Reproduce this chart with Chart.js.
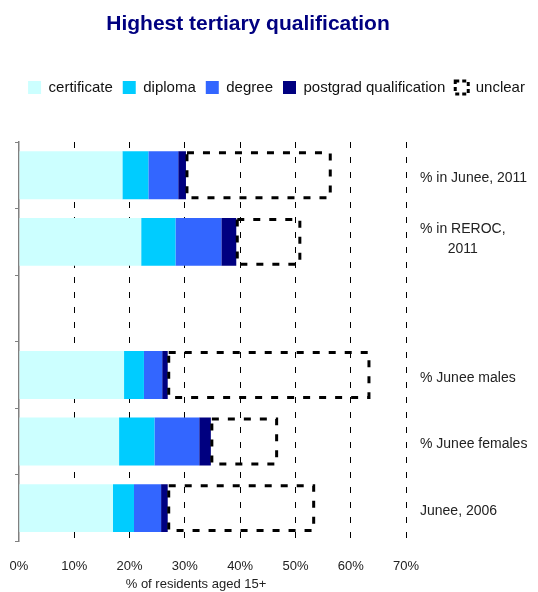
<!DOCTYPE html>
<html>
<head>
<meta charset="utf-8">
<script src="https://cdn.jsdelivr.net/npm/chart.js@4"></script>
<style>
  html, body { margin: 0; padding: 0; background: #fff; }
  #wrap { width: 538px; height: 592px; position: relative; }
</style>
</head>
<body>
<div id="wrap"><canvas id="qualChart"></canvas></div>
<script>
// Highest tertiary qualification, % of residents aged 15+
const categories = [
    '% in Junee, 2011',
    ['% in REROC,', '2011'],
    '',
    '% Junee males',
    '% Junee females',
    'Junee, 2006'
];
const certificate = [18.7, 22.1, null, 19.0, 18.1, 17.0];
const diploma     = [4.7, 6.2, null, 3.6, 6.4, 3.8];
const degree      = [5.4, 8.3, null, 3.3, 8.1, 4.9];
const postgrad    = [1.4, 2.7, null, 1.0, 2.1, 1.2];
const unclear     = [26.1, 11.5, null, 36.4, 11.9, 26.4];

const xTicks = [0, 10, 20, 30, 40, 50, 60, 70];

const FONT = "'Liberation Sans', Arial, Helvetica, sans-serif";

// dashed outline for the "unclear" segment (bar borders can't be dashed)
const unclearBoxes = {
    id: 'unclearBoxes',
    afterDatasetsDraw(chart) {
        const meta = chart.getDatasetMeta(4);
        const ctx = chart.ctx;
        ctx.save();
        ctx.strokeStyle = '#000';
        ctx.lineWidth = 3;
        ctx.setLineDash([7, 9]);
        meta.data.forEach((bar, i) => {
            if (unclear[i] == null) return;
            const p = bar.getProps(['x', 'y', 'base', 'height'], true);
            const left = Math.min(p.base, p.x);
            const w = Math.abs(p.x - p.base);
            ctx.strokeRect(left + 1, p.y - p.height / 2 + 1.5, w - 1, p.height - 3);
        });
        ctx.restore();
    }
};

// title, x axis caption and the series names to the right of the bars
const textLayer = {
    id: 'textLayer',
    afterDraw(chart) {
        const ctx = chart.ctx;
        const area = chart.chartArea;
        const yScale = chart.scales.y;
        ctx.save();
        ctx.textBaseline = 'middle';

        ctx.fillStyle = '#000080';
        ctx.font = 'bold 21px ' + FONT;
        ctx.textAlign = 'center';
        ctx.fillText('Highest tertiary qualification', 248, 24);

        ctx.fillStyle = '#222';
        ctx.font = '13px ' + FONT;
        ctx.fillText('% of residents aged 15+', 196, 584);

        ctx.font = '14px ' + FONT;
        const x0 = area.right + 14;
        categories.forEach((label, i) => {
            const lines = Array.isArray(label) ? label : [label];
            if (!lines[0]) return;
            const lh = 20;
            const cy = yScale.getPixelForTick(i) + (lines.length > 1 ? -3 : 3);
            const top = cy - (lines.length - 1) * lh / 2;
            const firstW = ctx.measureText(lines[0]).width;
            lines.forEach((line, j) => {
                if (j === 0) {
                    ctx.textAlign = 'left';
                    ctx.fillText(line, x0, top);
                } else {
                    ctx.textAlign = 'center';
                    ctx.fillText(line, x0 + firstW / 2, top + j * lh);
                }
            });
        });
        ctx.restore();
    }
};

// push the plot down a bit below the legend
const legendGap = {
    id: 'legendGap',
    beforeInit(chart) {
        const fit = chart.legend.fit;
        chart.legend.fit = function () {
            fit.bind(chart.legend)();
            this.height += 37;
        };
    }
};

const ctx = document.getElementById('qualChart').getContext('2d');
new Chart(ctx, {
    type: 'bar',
    data: {
        labels: categories,
        datasets: [
            { label: 'certificate', data: certificate, backgroundColor: '#CCFFFF' },
            { label: 'diploma', data: diploma, backgroundColor: '#00CCFF' },
            { label: 'degree', data: degree, backgroundColor: '#3366FF' },
            { label: 'postgrad qualification', data: postgrad, backgroundColor: '#000080' },
            { label: 'unclear', data: unclear, backgroundColor: 'rgba(0,0,0,0)' }
        ]
    },
    plugins: [legendGap, unclearBoxes, textLayer],
    options: {
        indexAxis: 'y',
        responsive: true,
        maintainAspectRatio: false,
        animation: false,
        barPercentage: 0.72,
        categoryPercentage: 1.0,
        borderWidth: 0,
        layout: { padding: { left: 15, right: 0, top: 70, bottom: 14 } },
        plugins: {
            title: { display: false },
            tooltip: { enabled: false },
            legend: {
                position: 'top',
                labels: {
                    color: '#111',
                    font: { family: FONT, size: 15 },
                    boxWidth: 13,
                    boxHeight: 13,
                    padding: 10,
                    generateLabels(chart) {
                        const items = Chart.defaults.plugins.legend.labels.generateLabels(chart);
                        items.forEach(item => { item.lineWidth = 0; });
                        const last = items[items.length - 1];
                        last.fillStyle = '#fff';
                        last.strokeStyle = '#000';
                        last.lineWidth = 3;
                        last.lineDash = [4, 3];
                        return items;
                    }
                }
            }
        },
        scales: {
            x: {
                stacked: true,
                min: 0,
                max: 70,
                afterBuildTicks(scale) {
                    scale.ticks = xTicks.map(v => ({ value: v }));
                },
                ticks: {
                    color: '#222',
                    font: { family: FONT, size: 13 },
                    padding: 4,
                    maxRotation: 0,
                    callback: v => v + '%'
                },
                grid: {
                    color: c => (c.tick && c.tick.value === 0) ? 'rgba(0,0,0,0)' : '#000',
                    lineWidth: 1,
                    drawTicks: true,
                    tickLength: 13,
                    tickColor: 'rgba(0,0,0,0)'
                },
                border: { display: false, dash: [6, 9] }
            },
            y: {
                stacked: true,
                position: 'left',
                offset: true,
                ticks: { display: false },
                grid: {
                    offset: true,
                    drawOnChartArea: false,
                    drawTicks: true,
                    tickLength: 4,
                    color: '#808080'
                },
                border: { display: true, color: '#808080', width: 1.5 }
            },
            y2: {
                position: 'right',
                type: 'category',
                labels: categories,
                ticks: { display: false },
                grid: { display: false },
                border: { display: false },
                afterFit(scale) { scale.width = 132; }
            }
        }
    }
});
</script>
</body>
</html>
